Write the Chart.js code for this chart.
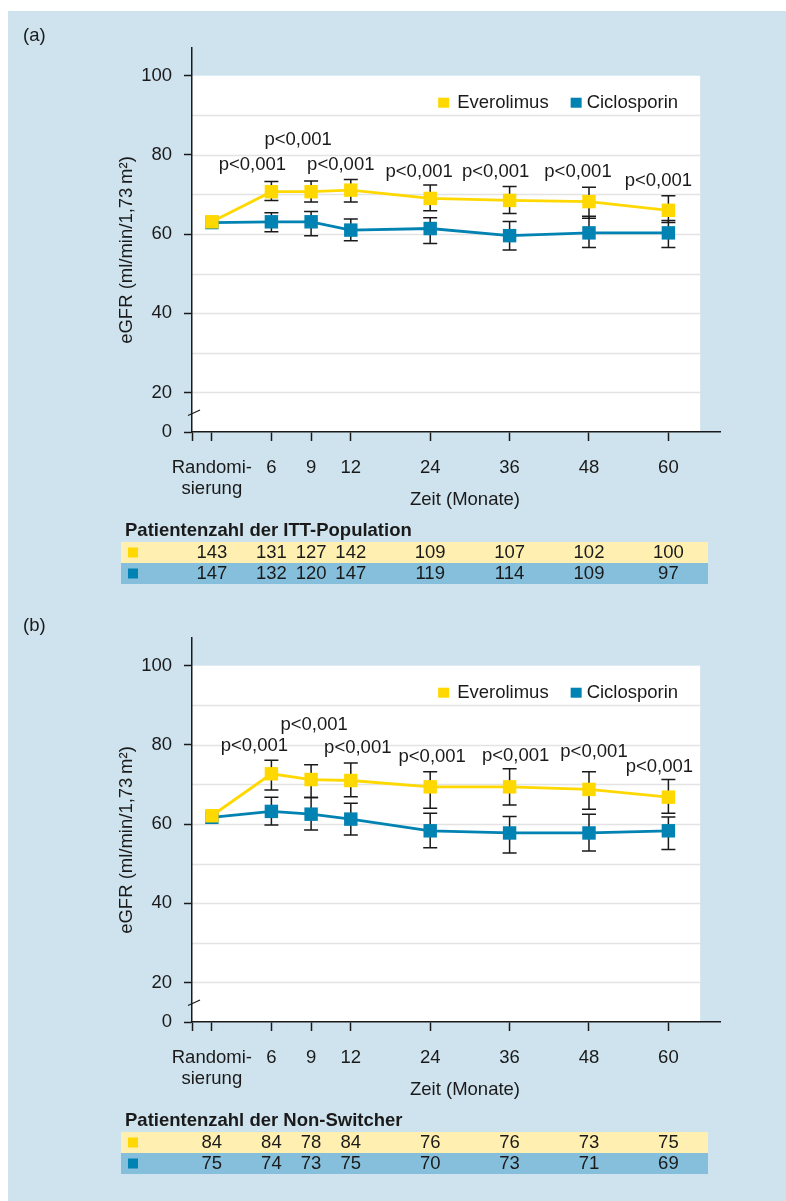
<!DOCTYPE html>
<html><head><meta charset="utf-8">
<script src="https://cdn.jsdelivr.net/npm/chart.js@4.4.1/dist/chart.umd.min.js"></script>
<style>
html,body{margin:0;padding:0;background:#fff;}
body{width:786px;height:1201px;position:relative;overflow:hidden;}
#panel{position:absolute;left:8px;top:11px;right:0;bottom:0;background:#cfe3ee;}
.wrap{position:absolute;left:0;width:786px;height:590px;}
</style></head><body>
<div id="panel"></div>
<div class="wrap" style="top:0"><canvas id="cA" width="786" height="590"></canvas></div>
<div class="wrap" style="top:590px"><canvas id="cB" width="786" height="590"></canvas></div>
<script>
// ---------------- data ----------------
const timeLabels = [['Randomi-','sierung'],'6','9','12','24','36','48','60'];
// place of each time point on the (non-linear) time axis, in axis units
const axisSlots = [0,1.5,2.5,3.5,5.5,7.5,9.5,11.5];
const seriesNames = ['Everolimus','Ciclosporin'];
const yTickValues = [10,20,40,60,80,100];   // 10 is shown as "0" (broken axis)
const pText = 'p<0,001';

// (a) ITT population
const evA    = [63.1,70.7,70.7,71.1,69.0,68.5,68.2,66.0];
const evA_hi = [null,73.3,73.4,73.8,72.4,72.0,71.8,69.7];
const evA_lo = [null,68.5,68.1,68.1,65.9,65.2,64.0,62.9];
const ciA    = [62.9,63.1,63.1,61.0,61.4,59.6,60.3,60.3];
const ciA_hi = [null,65.4,65.7,63.8,64.1,63.2,64.5,63.4];
const ciA_lo = [null,60.6,59.6,58.3,57.6,56.0,56.6,56.6];
const pA_y   = [null,77.4,83.7,77.4,75.7,75.7,75.7,73.5];
const nEvA   = [143,131,127,142,109,107,102,100];
const nCiA   = [147,132,120,147,119,114,109,97];

// (b) Non-Switcher
const evB    = [62.1,72.7,71.25,71.0,69.4,69.4,68.75,66.8];
const evB_hi = [null,76.1,75.0,75.4,73.2,74.0,73.2,71.25];
const evB_lo = [null,68.6,66.7,66.9,64.0,64.8,63.75,62.75];
const ciB    = [61.7,63.2,62.5,61.25,58.3,57.75,57.75,58.3];
const ciB_hi = [null,66.8,66.7,65.25,62.75,61.9,62.5,61.8];
const ciB_lo = [null,59.75,58.5,57.25,54.0,52.7,53.2,53.6];
const pB_y   = [null,79.8,85.1,79.3,76.9,77.2,78.3,74.4];
const nEvB   = [84,84,78,84,76,76,73,75];
const nCiB   = [75,74,73,75,70,73,71,69];

// ---------------- style ----------------
const YEL = '#ffd800', BLU = '#0082b2', INK = '#1a1a1a';
const ROW_Y = '#fff0b2', ROW_B = '#86bfdb';
const FONT = 'Liberation Sans, Arial, sans-serif';
const FS = 18.5;
// horizontal nudges (px) of the p-labels relative to their time point
const pDxA = [0,-19,-13,-10,-11,-14,-11,-10];
const pDxB = [0,-17,3,7,2,6,5,-9];

function pts(arr){ return arr.map((v,i)=>({x:axisSlots[i], y:v})); }

function makeChart(id, cfg){
  const deco = {
    id:'deco'+id,
    beforeDraw(chart){
      const {ctx, chartArea:a, scales:{x,y}} = chart;
      const wr = x.getPixelForValue(12.3);
      ctx.save();
      ctx.fillStyle = '#fff';
      ctx.fillRect(a.left, y.getPixelForValue(100), wr - a.left, a.bottom - y.getPixelForValue(100));
      ctx.strokeStyle = '#e3e3e3'; ctx.lineWidth = 1.5;
      for (let v = 20; v <= 90; v += 10){
        const py = Math.round(y.getPixelForValue(v)) + 0.5;
        ctx.beginPath(); ctx.moveTo(a.left, py); ctx.lineTo(wr, py); ctx.stroke();
      }
      ctx.restore();
    },
    beforeDatasetsDraw(chart){
      const {ctx, scales:{x,y}} = chart;
      ctx.save();
      ctx.strokeStyle = INK; ctx.lineWidth = 1.5;
      [[cfg.evHi,cfg.evLo],[cfg.ciHi,cfg.ciLo]].forEach(([hi,lo])=>{
        hi.forEach((h,i)=>{
          if (h == null) return;
          const px = x.getPixelForValue(axisSlots[i]);
          const yh = y.getPixelForValue(h), yl = y.getPixelForValue(lo[i]);
          ctx.beginPath();
          ctx.moveTo(px, yh); ctx.lineTo(px, yl);
          ctx.moveTo(px-7, yh); ctx.lineTo(px+7, yh);
          ctx.moveTo(px-7, yl); ctx.lineTo(px+7, yl);
          ctx.stroke();
        });
      });
      ctx.restore();
    },
    afterDraw(chart){
      const {ctx, chartArea:a, scales:{x,y}} = chart;
      ctx.save();
      ctx.fillStyle = INK;
      ctx.font = FS + 'px ' + FONT;
      // panel letter
      ctx.textAlign = 'left'; ctx.textBaseline = 'middle';
      ctx.fillText(cfg.letter, 23, a.top - 12);
      // axis break mark
      const yb = y.getPixelForValue(14.8);
      ctx.strokeStyle = INK; ctx.lineWidth = 1.2;
      ctx.beginPath(); ctx.moveTo(a.left - 4, yb + 2.5); ctx.lineTo(a.left + 8, yb - 3); ctx.stroke();
      // y title
      ctx.save();
      ctx.translate(127, (a.top + a.bottom)/2 + 10);
      ctx.rotate(-Math.PI/2);
      ctx.textAlign = 'center';
      ctx.fillText('eGFR (ml/min/1,73\u2009m\u00B2)', 0, 0);
      ctx.restore();
      // x title
      ctx.textAlign = 'center';
      ctx.fillText('Zeit (Monate)', (x.left + x.right)/2 + 9, a.bottom + 68);
      // legend
      const wr = x.getPixelForValue(12.3);
      const ly = y.getPixelForValue(100) + 27;
      const w1 = ctx.measureText(seriesNames[0]).width, w2 = ctx.measureText(seriesNames[1]).width;
      const total = 11 + 8 + w1 + 22 + 11 + 5 + w2;
      let lx = wr - 22 - total;
      ctx.textAlign = 'left';
      ctx.fillStyle = YEL; ctx.fillRect(lx, ly - 5, 11, 10);
      ctx.fillStyle = INK; ctx.fillText(seriesNames[0], lx + 19, ly);
      lx += 19 + w1 + 22;
      ctx.fillStyle = BLU; ctx.fillRect(lx, ly - 5, 11, 10);
      ctx.fillStyle = INK; ctx.fillText(seriesNames[1], lx + 16, ly);
      // p labels
      ctx.textAlign = 'center';
      cfg.pY.forEach((v,i)=>{
        if (v == null) return;
        ctx.fillText(pText, x.getPixelForValue(axisSlots[i]) + cfg.pDx[i], y.getPixelForValue(v));
      });
      // patient table
      const t0 = a.bottom;
      ctx.font = 'bold ' + FS + 'px ' + FONT;
      ctx.textAlign = 'left';
      ctx.fillText(cfg.tableTitle, 125, t0 + 99);
      ctx.font = FS + 'px ' + FONT;
      [[cfg.nEv, ROW_Y, YEL, 110],[cfg.nCi, ROW_B, BLU, 131]].forEach(([arr,bg,mk,off])=>{
        ctx.fillStyle = bg; ctx.fillRect(121, t0 + off, 587, 21);
        ctx.fillStyle = mk; ctx.fillRect(128, t0 + off + 5.5, 10, 10);
        ctx.fillStyle = INK; ctx.textAlign = 'center';
        arr.forEach((n,i)=> ctx.fillText(String(n), x.getPixelForValue(axisSlots[i]), t0 + off + 11));
      });
      ctx.restore();
    }
  };

  return new Chart(document.getElementById(id), {
    type:'line',
    data:{ datasets:[
      {label:seriesNames[0], data:pts(cfg.ev), borderColor:YEL, backgroundColor:YEL, borderWidth:2.8,
       pointStyle:'rect', pointRadius:9.5, pointBorderWidth:0, pointBackgroundColor:YEL, tension:0},
      {label:seriesNames[1], data:pts(cfg.ci), borderColor:BLU, backgroundColor:BLU, borderWidth:2.8,
       pointStyle:'rect', pointRadius:9.5, pointBorderWidth:0, pointBackgroundColor:BLU, tension:0}
    ]},
    options:{
      responsive:false, animation:false, events:[],
      layout:{padding:{left:0, right:66, top:48, bottom:73}},
      plugins:{legend:{display:false}, tooltip:{enabled:false}},
      scales:{
        x:{type:'linear', min:-0.5, max:12.8,
           afterBuildTicks:s=>{ s.ticks = [-0.5, ...axisSlots].map(v=>({value:v})); },
           afterFit:s=>{ s.height = 85; },
           ticks:{autoSkip:false, maxRotation:0, padding:17, color:INK,
                  font:{family:FONT, size:FS, lineHeight:1.1},
                  callback:(v,i)=> i === 0 ? '' : timeLabels[i-1]},
           grid:{drawOnChartArea:false, drawTicks:true, tickLength:9, tickColor:INK, tickWidth:1.5},
           border:{color:INK, width:1.5}},
        y:{type:'linear', min:10, max:107,
           afterBuildTicks:s=>{ s.ticks = yTickValues.map(v=>({value:v})); },
           afterFit:s=>{ s.width = 192; },
           ticks:{padding:12, color:INK, font:{family:FONT, size:FS},
                  callback:v=> v === 10 ? '0' : String(v)},
           grid:{drawOnChartArea:false, drawTicks:true, tickLength:8, tickColor:INK, tickWidth:1.5},
           border:{color:INK, width:1.5}}
      }
    },
    plugins:[deco]
  });
}

makeChart('cA', {letter:'(a)', ev:evA, evHi:evA_hi, evLo:evA_lo, ci:ciA, ciHi:ciA_hi, ciLo:ciA_lo,
  pY:pA_y, pDx:pDxA, nEv:nEvA, nCi:nCiA, tableTitle:'Patientenzahl der ITT-Population'});
makeChart('cB', {letter:'(b)', ev:evB, evHi:evB_hi, evLo:evB_lo, ci:ciB, ciHi:ciB_hi, ciLo:ciB_lo,
  pY:pB_y, pDx:pDxB, nEv:nEvB, nCi:nCiB, tableTitle:'Patientenzahl der Non-Switcher'});
</script>
</body></html>
